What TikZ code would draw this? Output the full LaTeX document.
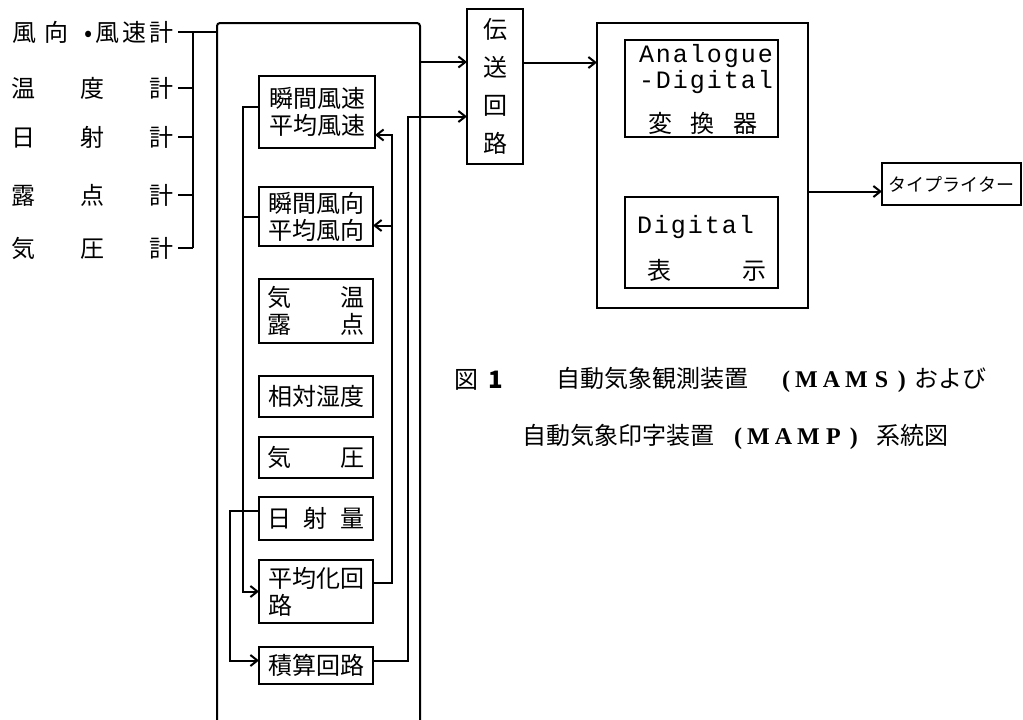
\documentclass[tikz,border=0pt]{standalone}
\usepackage{fontspec}
\setmainfont{Noto Sans CJK JP}
\newfontfamily\serfont{Liberation Serif}
\newfontfamily\monofont{Liberation Mono}
\usetikzlibrary{arrows.meta}
\newcommand\mletters[4]{{\serfont\bfseries\fontsize{24pt}{26pt}\selectfont\makebox[12pt][l]{(}\makebox[25pt]{#1}\makebox[25pt]{#2}\makebox[25pt]{#3}\makebox[25pt]{#4}\makebox[12pt][r]{)}}}
\newcommand\spc[1]{\makebox[17pt]{#1}}
\begin{document}
\begin{tikzpicture}[x=1pt,y=-1pt,
  line width=2pt,
  >={Straight Barb[length=7pt,width=11pt]},
  box/.style={draw, rectangle, inner sep=0pt, outer sep=0pt, anchor=north west,
    font=\fontsize{24pt}{27pt}\selectfont, align=center},
  lbl/.style={inner sep=0pt, font=\fontsize{24pt}{27pt}\selectfont},
  mono/.style={inner sep=0pt, text height=15pt, text depth=4pt,
    font=\monofont\fontsize{25pt}{27pt}\selectfont, anchor=base west},
]
\useasboundingbox (0,0) rectangle (1023,720);

% sensors
\node[lbl, anchor=east] (s1) at (175,32) {風\kern8pt向\hspace{16pt}•\hspace{3pt}風\kern3pt速\kern3pt計};
\node[lbl, anchor=east] (s2) at (175,88) {温\hspace{45pt}度\hspace{45pt}計};
\node[lbl, anchor=east] (s3) at (175,137) {日\hspace{45pt}射\hspace{45pt}計};
\node[lbl, anchor=east] (s4) at (175,195) {露\hspace{45pt}点\hspace{45pt}計};
\node[lbl, anchor=east] (s5) at (175,248) {気\hspace{45pt}圧\hspace{45pt}計};

% processing frame (open at bottom)
\node[inner sep=0pt, outer sep=0pt, minimum width=203pt, minimum height=697pt, anchor=north west] (proc) at (217,23) {};
\draw[rounded corners=3pt] (proc.south west) -- (proc.north west) -- (proc.north east) -- (proc.south east);

\coordinate (bus) at (193,0);
\draw ([xshift=3pt]s1.east) -- (proc.west |- s1.east);
\draw ([xshift=3pt]s2.east) -- (s2.east -| bus);
\draw ([xshift=3pt]s3.east) -- (s3.east -| bus);
\draw ([xshift=3pt]s4.east) -- (s4.east -| bus);
\draw ([xshift=3pt]s5.east) -- (s5.east -| bus);
\draw (s1.east -| bus) -- (s5.east -| bus);

% inner boxes
\node[box, minimum width=116pt, minimum height=72pt] (b1) at (259,76) {瞬間風速\\平均風速};
\node[box, minimum width=114pt, minimum height=59pt] (b2) at (259,187) {瞬間風向\\平均風向};
\node[box, minimum width=114pt, minimum height=64pt] (b3) at (259,279) {\makebox[97pt]{気\hfill{}温}\\\makebox[97pt]{露\hfill{}点}};
\node[box, minimum width=114pt, minimum height=41pt] (b4) at (259,376) {相対湿度};
\node[box, minimum width=114pt, minimum height=41pt] (b5) at (259,437) {\makebox[97pt]{気\hfill{}圧}};
\node[box, minimum width=114pt, minimum height=43pt] (b6) at (259,497) {\makebox[97pt]{日\hfill{}射\hfill{}量}};
\node[box, minimum width=114pt, minimum height=63pt, align=left] (b7) at (259,560) {平均化回\\路};
\node[box, minimum width=114pt, minimum height=37pt] (b8) at (259,647) {積算回路};

% transmission circuit
\node[box, minimum width=56pt, minimum height=155pt, font=\fontsize{24pt}{38pt}\selectfont] (den) at (467,9) {伝\\送\\回\\路};

% right unit
\node[box, minimum width=211pt, minimum height=285pt] (rb) at (597,23) {};
\node[box, minimum width=153pt, minimum height=97pt] (ad) at (625,40) {};
\node[mono] (ad1) at (637,62) {\spc{A}\spc{n}\spc{a}\spc{l}\spc{o}\spc{g}\spc{u}\spc{e}};
\node[mono] (ad2) at (637,88) {\spc{-}\spc{D}\spc{i}\spc{g}\spc{i}\spc{t}\spc{a}\spc{l}};
\node[lbl] (ad3) at (703,123) {\makebox[110pt]{変\hfill{}換\hfill{}器}};
\node[box, minimum width=153pt, minimum height=91pt] (dg) at (625,197) {};
\node[mono] (dg1) at (635,233) {\spc{D}\spc{i}\spc{g}\spc{i}\spc{t}\spc{a}\spc{l}};
\node[lbl] (dg2) at (707,270) {\makebox[119pt]{表\hfill{}示}};

% typewriter
\node[box, minimum width=139pt, minimum height=42pt, font=\fontsize{18pt}{20pt}\selectfont] (tw) at (882,163) {タイプライター};

% caption
\node[lbl, anchor=west] (fig) at (453,380) {図\hspace{10pt}\textbf{1}};
\node[lbl, anchor=west] (cap1) at (555,380) {自動気象観測装置\hspace{34pt}\mletters{M}{A}{M}{S}\hspace{8pt}および};
\node[lbl, anchor=west] (cap2) at (521,437) {自動気象印字装置\hspace{20pt}\mletters{M}{A}{M}{P}\hspace{18pt}系統図};

% connectors
\coordinate (l1) at (243,0);
\coordinate (l2) at (230,0);
\coordinate (r1) at (392,0);
\coordinate (r2) at (408,0);

\draw[->] ([yshift=-39pt]proc.north east) -- ([yshift=-39pt]proc.north east -| den.west);
\draw[->] ([yshift=24pt]den.east) -- ([yshift=24pt]den.east -| rb.west);
\draw[->] ([yshift=-26pt]rb.east) -- ([yshift=-26pt]rb.east -| tw.west);

\draw[->] ([yshift=5pt]b1.west) -- ([yshift=5pt]b1.west -| l1) |- (b7.west);
\draw (b2.west) -- (b2.west -| l1);
\draw[->] ([yshift=8pt]b6.west) -- ([yshift=8pt]b6.west -| l2) |- ([yshift=5pt]b8.west);
\draw[->] ([yshift=9pt]b7.east) -- ([yshift=9pt]b7.east -| r1) |- ([yshift=-23pt]b1.east);
\draw[->] ([yshift=-9pt]b2.east -| r1) -- ([yshift=-9pt]b2.east);
\draw[->] ([yshift=5pt]b8.east) -- ([yshift=5pt]b8.east -| r2) |- ([yshift=-30pt]den.west);
\end{tikzpicture}
\end{document}
